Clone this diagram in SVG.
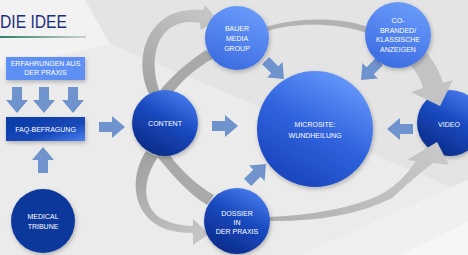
<svg xmlns="http://www.w3.org/2000/svg" xmlns:xlink="http://www.w3.org/1999/xlink" width="468" height="255" viewBox="0 0 468 255">
<style>
.t{font-family:"Liberation Sans",Arial,sans-serif;font-size:7px;fill:#ffffff;text-anchor:middle}
.ttl{font-family:"Liberation Sans",Arial,sans-serif;font-size:18px;fill:#1d2f7c}
.ba{fill:#6f93cd}
</style>
<defs>
<filter id="sh" x="-25%" y="-25%" width="150%" height="160%">
<feDropShadow dx="1" dy="2" stdDeviation="2" flood-color="#000" flood-opacity="0.25"/>
</filter>
<linearGradient id="gDark" x1="0.8" y1="0" x2="0.25" y2="1">
<stop offset="0" stop-color="#4a7ff0"/>
<stop offset="0.45" stop-color="#1a4ac0"/>
<stop offset="1" stop-color="#0a2a85"/>
</linearGradient>
<linearGradient id="gLight" x1="0.7" y1="0" x2="0.3" y2="1">
<stop offset="0" stop-color="#6a9cfb"/>
<stop offset="1" stop-color="#3b6be0"/>
</linearGradient>
<linearGradient id="gMicro" x1="0.75" y1="0.05" x2="0.25" y2="0.95">
<stop offset="0" stop-color="#6396fa"/>
<stop offset="0.5" stop-color="#3063de"/>
<stop offset="1" stop-color="#1a45bc"/>
</linearGradient>
<linearGradient id="gFaq" x1="0" y1="0" x2="1" y2="1">
<stop offset="0" stop-color="#0c3aa3"/>
<stop offset="0.6" stop-color="#1547b9"/>
<stop offset="1" stop-color="#4c82f2"/>
</linearGradient>
<linearGradient id="gLine" x1="0" y1="0" x2="1" y2="0">
<stop offset="0" stop-color="#2f7f6c"/>
<stop offset="1" stop-color="#d0d0d0"/>
</linearGradient>
<linearGradient id="gA" gradientUnits="userSpaceOnUse" x1="150" y1="95" x2="210" y2="15">
<stop offset="0" stop-color="#a2a2a2"/>
<stop offset="1" stop-color="#c6c6c6"/>
</linearGradient>
<linearGradient id="gG" gradientUnits="userSpaceOnUse" x1="150" y1="155" x2="205" y2="235">
<stop offset="0" stop-color="#a2a2a2"/>
<stop offset="1" stop-color="#c6c6c6"/>
</linearGradient>
<linearGradient id="gE" gradientUnits="userSpaceOnUse" x1="270" y1="220" x2="440" y2="150">
<stop offset="0" stop-color="#b0b0b0"/>
<stop offset="1" stop-color="#c8c8c8"/>
</linearGradient>
<path id="arr" d="M-26,-5 H-13 V-11 L0,0 L-13,11 V5 H-26 Z"/>
</defs>

<!-- background -->
<rect x="0" y="0" width="468" height="255" fill="#ebebeb"/>
<polygon points="85,0 468,0 468,194 260,107 110,44" fill="#e4e4e4"/>
<polygon points="0,0 85,0 110,44 0,70" fill="#f2f2f2"/>
<polygon points="300,255 468,180 468,255" fill="#f0f0f0"/>
<polygon points="400,255 468,222 468,255" fill="#f6f6f6"/>

<!-- title -->
<text class="ttl" x="0" y="28" textLength="67" lengthAdjust="spacingAndGlyphs">DIE IDEE</text>
<rect x="0" y="36" width="86" height="2" fill="url(#gLine)"/>

<!-- VIDEO node (under its incoming arrowheads) -->
<g id="video">
<circle cx="450" cy="123" r="33" fill="url(#gDark)" filter="url(#sh)"/>
<text class="t" x="449" y="127">VIDEO</text>
</g>

<!-- connectors -->
<g id="connectors">
<path d="M149 94 C136 65 142 30 170 15 C180 10 192 9 203 10 L205 5 L217 19 L201 30 L200 23 C190 21 180 22 172 27 C156 36 149 62 160 93 Z" fill="url(#gA)"/>
<path d="M158 93 C172 75 188 62 206 50 L214 58 C196 68 182 80 170 96 Z" fill="#a9a9a9"/>
<path d="M266 27 C290 19 335 15 368 27 L367 33 C335 22 292 23 268 31 Z" fill="#b2b2b2"/>
<path d="M408 63 C416 70 421 80 423 88 L411 92 L440 106 L453 80 L443 83 C440 72 434 62 427 53 Z" fill="#c3c3c3"/>
<path d="M268 217 Q338 214 380 195 Q402 183 416 161 L407 160 L437 142 L449 165 L433 163 Q416 176 392 198 Q345 222 268 221 Z" fill="url(#gE)"/>
<path d="M156 155 C172 175 190 195 207 205 L214 195 C198 186 182 172 168 153 Z" fill="#a9a9a9"/>
<path d="M146 151 C130 175 130 215 165 229 C175 232 185 233 193 233 L193 245 L209 234 L193 219 L193 226 C183 226 172 224 160 218 C142 205 142 180 158 157 Z" fill="url(#gG)"/>

<use xlink:href="#arr" class="ba" transform="translate(17,113) rotate(90)"/>
<use xlink:href="#arr" class="ba" transform="translate(44,113) rotate(90)"/>
<use xlink:href="#arr" class="ba" transform="translate(73,113) rotate(90)"/>
<use xlink:href="#arr" class="ba" transform="translate(43,147) rotate(-90)"/>
<use xlink:href="#arr" class="ba" transform="translate(125,127)"/>
<use xlink:href="#arr" class="ba" transform="translate(238,126)"/>
<use xlink:href="#arr" class="ba" transform="translate(387,129) rotate(180)"/>
<use xlink:href="#arr" class="ba" transform="translate(284,79) rotate(45)"/>
<use xlink:href="#arr" class="ba" transform="translate(361,80) rotate(135)"/>
<use xlink:href="#arr" class="ba" transform="translate(266,164) rotate(-45)"/>
</g>

<g id="erfahrungen">
<rect x="6" y="57" width="79" height="23" fill="#5d8ff4" filter="url(#sh)"/>
<text class="t" x="45.5" y="66">ERFAHRUNGEN AUS</text>
<text class="t" x="45.5" y="75">DER PRAXIS</text>
</g>

<g id="faq">
<rect x="6" y="117" width="79" height="24" fill="url(#gFaq)" filter="url(#sh)"/>
<text class="t" x="45.5" y="132">FAQ-BEFRAGUNG</text>
</g>

<g id="medical">
<circle cx="43" cy="221" r="32" fill="#0b399b" filter="url(#sh)"/>
<text class="t" x="43" y="219">MEDICAL</text>
<text class="t" x="43" y="229">TRIBUNE</text>
</g>

<g id="content">
<circle cx="165" cy="123" r="33" fill="url(#gDark)" filter="url(#sh)"/>
<text class="t" x="165" y="126">CONTENT</text>
</g>

<g id="bauer">
<circle cx="237" cy="38" r="32" fill="url(#gLight)" filter="url(#sh)"/>
<text class="t" x="237" y="30.5">BAUER</text>
<text class="t" x="237" y="40.5">MEDIA</text>
<text class="t" x="237" y="50.5">GROUP</text>
</g>

<g id="cobranded">
<circle cx="398" cy="35" r="33" fill="url(#gLight)" filter="url(#sh)"/>
<text class="t" x="398" y="23">CO-</text>
<text class="t" x="398" y="32.5">BRANDED/</text>
<text class="t" x="398" y="42">KLASSISCHE</text>
<text class="t" x="398" y="52">ANZEIGEN</text>
</g>

<g id="microsite">
<circle cx="315" cy="129" r="58" fill="url(#gMicro)" filter="url(#sh)"/>
<text class="t" x="315" y="127">MICROSITE:</text>
<text class="t" x="315" y="137.5">WUNDHEILUNG</text>
</g>

<g id="dossier">
<circle cx="237" cy="221" r="33" fill="url(#gDark)" filter="url(#sh)"/>
<text class="t" x="237" y="215.5">DOSSIER</text>
<text class="t" x="237" y="225">IN</text>
<text class="t" x="237" y="234">DER PRAXIS</text>
</g>
</svg>
